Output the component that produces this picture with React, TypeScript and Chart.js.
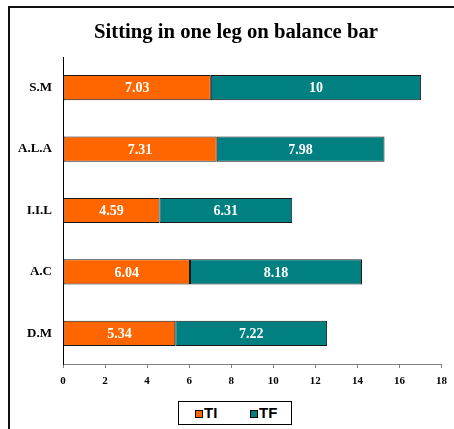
import React, { useEffect, useRef } from "react";
import { Chart, registerables } from "chart.js";

Chart.register(...registerables);

const categories = ["S.M", "A.L.A", "I.I.L", "A.C", "D.M"];
const tiValues = [7.03, 7.31, 4.59, 6.04, 5.34];
const tfValues = [10, 7.98, 6.31, 8.18, 7.22];
const seriesNames = ["TI", "TF"];
const xTicks = [0, 2, 4, 6, 8, 10, 12, 14, 16, 18];
const titleText = "Sitting in one leg on balance bar";

const ORANGE = "#FF6600";
const TEAL = "#008080";
const SERIF = "'Liberation Serif', 'Times New Roman', serif";
const SANS = "'Liberation Sans', Arial, sans-serif";

const valueLabels = {
  id: "valueLabels",
  afterDatasetsDraw(chart: any) {
    const ctx = chart.ctx;
    ctx.save();
    ctx.fillStyle = "#ffffff";
    ctx.font = `bold 14px ${SERIF}`;
    ctx.textAlign = "center";
    ctx.textBaseline = "middle";
    chart.data.datasets.forEach((ds: any, di: number) => {
      const meta = chart.getDatasetMeta(di);
      meta.data.forEach((el: any, i: number) => {
        const v = ds.data[i];
        const cx = (el.x + el.base) / 2;
        ctx.fillText(String(v), cx, el.y + 1);
      });
    });
    ctx.restore();
  },
};

const titlePlugin = {
  id: "centeredTitle",
  afterDraw(chart: any) {
    const ctx = chart.ctx;
    ctx.save();
    ctx.fillStyle = "#000";
    ctx.font = `bold 20.7px ${SERIF}`;
    ctx.textAlign = "center";
    ctx.textBaseline = "middle";
    ctx.fillText(titleText, 236, 33);
    ctx.restore();
  },
};

export default function App() {
  const ref = useRef<HTMLCanvasElement | null>(null);

  useEffect(() => {
    if (!ref.current) return;
    const chart = new Chart(ref.current, {
      type: "bar",
      data: {
        labels: categories,
        datasets: [
          {
            label: seriesNames[0],
            data: tiValues,
            backgroundColor: ORANGE,
            borderColor: "#1a1a1a",
            borderWidth: 1,
            borderSkipped: false,
            barPercentage: 0.41,
            categoryPercentage: 1,
          },
          {
            label: seriesNames[1],
            data: tfValues,
            backgroundColor: TEAL,
            borderColor: "#1a1a1a",
            borderWidth: 1,
            borderSkipped: false,
            barPercentage: 0.41,
            categoryPercentage: 1,
          },
        ],
      },
      options: {
        indexAxis: "y",
        animation: false,
        responsive: false,
        maintainAspectRatio: false,
        layout: { padding: { left: 11, right: 8, top: 57, bottom: 35 } },
        plugins: {
          legend: { display: false },
          tooltip: { enabled: false },
          title: { display: false },
        },
        scales: {
          x: {
            stacked: true,
            min: 0,
            max: 18,
            afterBuildTicks: (scale: any) => {
              scale.ticks = xTicks.map((v) => ({ value: v }));
            },
            afterFit: (scale: any) => {
              scale.height = 30;
            },
            ticks: {
              color: "#000",
              font: { family: SERIF, size: 11, weight: "bold" },
              padding: 7,
              maxRotation: 0,
              autoSkip: false,
            },
            grid: {
              drawOnChartArea: false,
              drawTicks: true,
              tickLength: 4,
              color: "#808080",
            },
            border: { color: "#808080", width: 1 },
          },
          y: {
            stacked: true,
            afterFit: (scale: any) => {
              scale.width = 52;
            },
            ticks: {
              color: "#000",
              font: { family: SERIF, size: 13, weight: "bold" },
              padding: 11,
            },
            grid: { drawOnChartArea: false, drawTicks: false },
            border: { color: "#000", width: 1 },
          },
        },
      },
      plugins: [valueLabels, titlePlugin],
    } as any);
    return () => chart.destroy();
  }, []);

  const sq = (color: string, left: number) => (
    <span
      style={{
        position: "absolute",
        left,
        top: 8,
        width: 6,
        height: 6,
        background: color,
        border: "1px solid #000",
      }}
    />
  );
  const txt = (t: string, left: number) => (
    <span
      style={{
        position: "absolute",
        left,
        top: 2,
        font: `bold 15px ${SANS}`,
        lineHeight: "17px",
        color: "#000",
      }}
    >
      {t}
    </span>
  );

  return (
    <div
      style={{
        position: "fixed",
        left: 0,
        top: 0,
        width: 454,
        height: 429,
        overflow: "hidden",
        background: "#fff",
      }}
    >
      <div
        style={{
          position: "absolute",
          left: 8,
          top: 6,
          width: 460,
          height: 440,
          borderLeft: "2px solid #111",
          borderTop: "2px solid #111",
        }}
      />
      <canvas ref={ref} width={454} height={429} style={{ position: "absolute", left: 0, top: 0 }} />
      <div
        style={{
          position: "absolute",
          left: 178,
          top: 401,
          width: 112,
          height: 22,
          border: "1px solid #000",
          background: "#fff",
        }}
      >
        {sq(ORANGE, 16)}
        {txt(seriesNames[0], 25)}
        {sq(TEAL, 71)}
        {txt(seriesNames[1], 80)}
      </div>
    </div>
  );
}
